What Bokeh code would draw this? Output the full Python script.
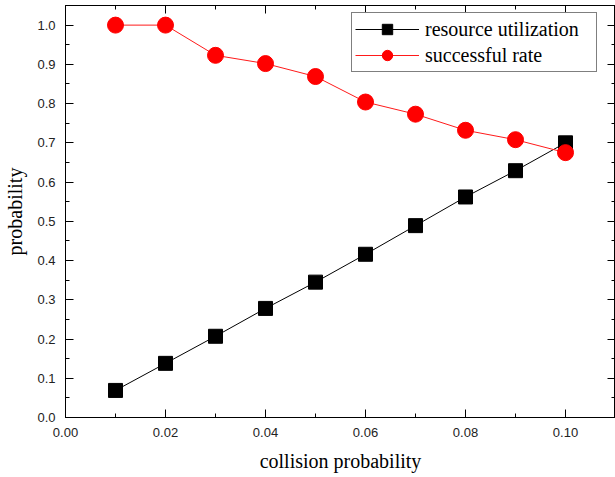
from bokeh.plotting import figure
from bokeh.models import Range1d, LinearAxis, FixedTicker, NumeralTickFormatter, Legend, LegendItem
from bokeh.embed import file_html
from bokeh.resources import INLINE

collision = [0.01, 0.02, 0.03, 0.04, 0.05, 0.06, 0.07, 0.08, 0.09, 0.10]
resource_utilization = [0.069, 0.138, 0.207, 0.278, 0.345, 0.416, 0.489, 0.562, 0.629, 0.700]
successful_rate = [1.000, 1.000, 0.923, 0.902, 0.869, 0.804, 0.773, 0.732, 0.708, 0.675]

x_ticks = [0.00, 0.02, 0.04, 0.06, 0.08, 0.10]
x_minor = [0.01, 0.03, 0.05, 0.07, 0.09]
y_ticks = [0.0, 0.1, 0.2, 0.3, 0.4, 0.5, 0.6, 0.7, 0.8, 0.9, 1.0]
y_minor = [0.05, 0.15, 0.25, 0.35, 0.45, 0.55, 0.65, 0.75, 0.85, 0.95]

p = figure(width=615, height=477, output_backend="svg", toolbar_location=None,
           x_range=Range1d(0, 0.11), y_range=Range1d(0, 1.05),
           min_border_left=65, min_border_right=0, min_border_top=5, min_border_bottom=60)
p.xgrid.visible = False
p.ygrid.visible = False
p.outline_line_color = "black"
p.outline_line_width = 1

def style_axis(ax, ticks, minor, fmt, show_labels=True):
    ax.ticker = FixedTicker(ticks=ticks, minor_ticks=minor)
    ax.formatter = NumeralTickFormatter(format=fmt)
    ax.major_tick_in = 8
    ax.major_tick_out = 0
    ax.minor_tick_in = 4
    ax.minor_tick_out = 0
    ax.axis_line_color = "black"
    ax.major_tick_line_color = "black"
    ax.minor_tick_line_color = "black"
    ax.major_label_text_font = "Liberation Sans"
    ax.major_label_text_font_size = "13px"
    ax.major_label_text_color = "#222222" if show_labels else None
    ax.major_label_standoff = 10 if show_labels else 0
    ax.axis_label_text_font = "Liberation Serif"
    ax.axis_label_text_font_size = "20px"
    ax.axis_label_text_font_style = "normal"
    ax.axis_label_text_color = "black"

style_axis(p.xaxis[0], x_ticks, x_minor, "0.00")
style_axis(p.yaxis[0], y_ticks, y_minor, "0.0")
p.xaxis[0].axis_label = "collision probability"
p.yaxis[0].axis_label = "probability"
p.xaxis[0].axis_label_standoff = 10
p.yaxis[0].axis_label_standoff = 8

top = LinearAxis()
style_axis(top, x_ticks, x_minor, "0.00", show_labels=False)
p.add_layout(top, "above")
right = LinearAxis()
style_axis(right, y_ticks, y_minor, "0.0", show_labels=False)
p.add_layout(right, "right")

l1 = p.line(collision, resource_utilization, line_color="black", line_width=1)
s1 = p.scatter(collision, resource_utilization, marker="square", size=14,
               fill_color="black", line_color="black")
l2 = p.line(collision, successful_rate, line_color="#ff1a1a", line_width=1)
s2 = p.scatter(collision, successful_rate, marker="circle", size=16,
               fill_color="#ff0000", line_color="#ff0000")

legend = Legend(items=[LegendItem(label="resource utilization", renderers=[l1, s1]),
                       LegendItem(label="successful rate", renderers=[l2, s2])],
                location=(286, 345))
legend.label_text_font = "Liberation Serif"
legend.label_text_font_size = "20px"
legend.label_text_color = "black"
legend.border_line_color = "black"
legend.border_line_width = 1
legend.glyph_width = 64
legend.glyph_height = 26
legend.label_height = 26
legend.label_width = 168
legend.spacing = 0
legend.padding = 3
legend.margin = 0
legend.label_standoff = 6
p.add_layout(legend)

open("out.html", "w").write(file_html(p, INLINE))
